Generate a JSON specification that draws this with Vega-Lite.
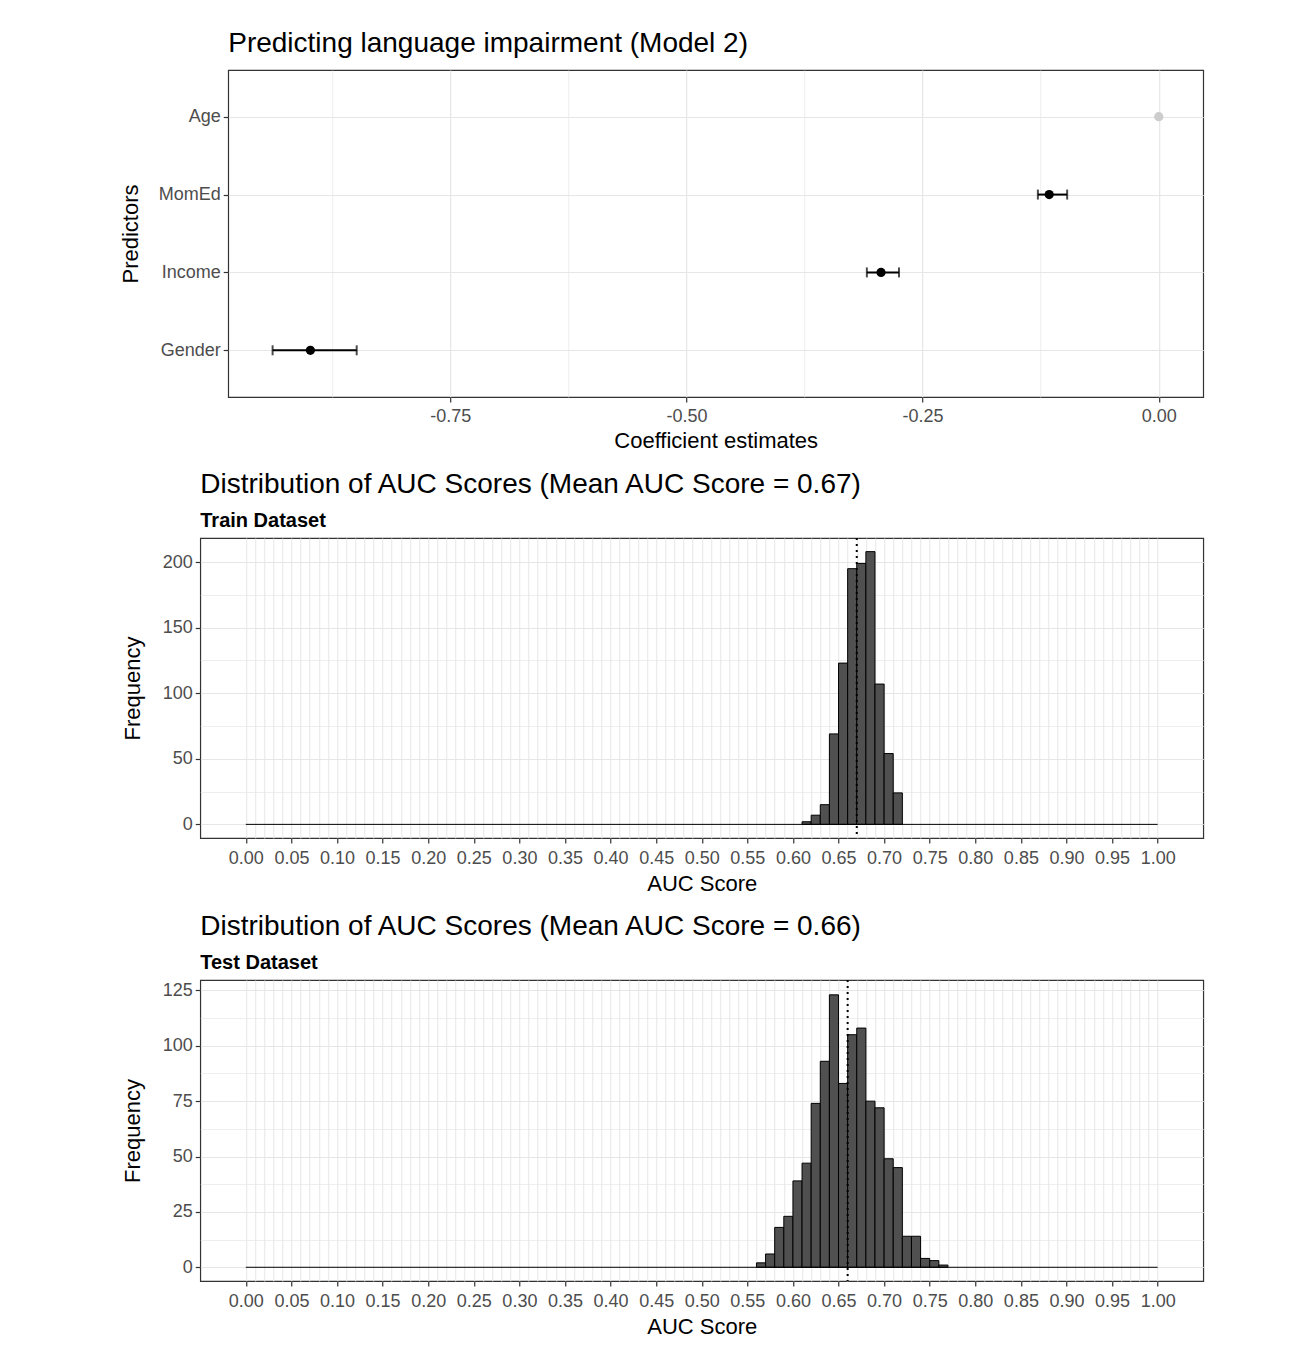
{
  "$schema": "https://vega.github.io/schema/vega-lite/v6.json",
  "background": "white",
  "padding": {"left": 118, "top": 29, "right": 5, "bottom": 5},
  "center": true,
  "spacing": 18,
  "config": {
    "font": "Liberation Sans",
    "view": {"stroke": "#333333", "strokeWidth": 1.2},
    "axis": {
      "domain": false,
      "tickColor": "#333333",
      "tickSize": 5,
      "tickWidth": 1.2,
      "labelColor": "#4d4d4d",
      "labelFontSize": 18,
      "labelPadding": 3,
      "labelOverlap": false,
      "titleFontSize": 22,
      "titleFontWeight": "normal",
      "titleColor": "black",
      "gridColor": "#e6e6e6",
      "gridWidth": 1
    },
    "title": {
      "fontSize": 28,
      "fontWeight": "normal",
      "color": "black",
      "anchor": "start",
      "frame": "group",
      "subtitleFontSize": 20,
      "subtitleFontWeight": "bold",
      "subtitleColor": "black",
      "subtitlePadding": 12
    }
  },
  "datasets": {
    "coef": [
      {"predictor": "Age", "estimate": 0.0, "low": 0.0, "high": 0.0, "nonzero": "no"},
      {"predictor": "MomEd", "estimate": -0.116, "low": -0.128, "high": -0.097, "nonzero": "yes"},
      {"predictor": "Income", "estimate": -0.294, "low": -0.309, "high": -0.275, "nonzero": "yes"},
      {"predictor": "Gender", "estimate": -0.898, "low": -0.938, "high": -0.849, "nonzero": "yes"}
    ],
    "train": [
      {"lo": 0.61, "hi": 0.62, "count": 2},
      {"lo": 0.62, "hi": 0.63, "count": 7},
      {"lo": 0.63, "hi": 0.64, "count": 15},
      {"lo": 0.64, "hi": 0.65, "count": 69},
      {"lo": 0.65, "hi": 0.66, "count": 123},
      {"lo": 0.66, "hi": 0.67, "count": 195},
      {"lo": 0.67, "hi": 0.68, "count": 199},
      {"lo": 0.68, "hi": 0.69, "count": 208},
      {"lo": 0.69, "hi": 0.70, "count": 107},
      {"lo": 0.70, "hi": 0.71, "count": 54},
      {"lo": 0.71, "hi": 0.72, "count": 24}
    ],
    "test": [
      {"lo": 0.56, "hi": 0.57, "count": 2},
      {"lo": 0.57, "hi": 0.58, "count": 6},
      {"lo": 0.58, "hi": 0.59, "count": 18},
      {"lo": 0.59, "hi": 0.60, "count": 23},
      {"lo": 0.60, "hi": 0.61, "count": 39},
      {"lo": 0.61, "hi": 0.62, "count": 47},
      {"lo": 0.62, "hi": 0.63, "count": 74},
      {"lo": 0.63, "hi": 0.64, "count": 93},
      {"lo": 0.64, "hi": 0.65, "count": 123},
      {"lo": 0.65, "hi": 0.66, "count": 83},
      {"lo": 0.66, "hi": 0.67, "count": 105},
      {"lo": 0.67, "hi": 0.68, "count": 108},
      {"lo": 0.68, "hi": 0.69, "count": 75},
      {"lo": 0.69, "hi": 0.70, "count": 72},
      {"lo": 0.70, "hi": 0.71, "count": 49},
      {"lo": 0.71, "hi": 0.72, "count": 45},
      {"lo": 0.72, "hi": 0.73, "count": 14},
      {"lo": 0.73, "hi": 0.74, "count": 14},
      {"lo": 0.74, "hi": 0.75, "count": 4},
      {"lo": 0.75, "hi": 0.76, "count": 3},
      {"lo": 0.76, "hi": 0.77, "count": 1}
    ],
    "means": [
      {"set": "Train", "mean": 0.67, "from": 0, "to": 1},
      {"set": "Test", "mean": 0.66, "from": 0, "to": 1}
    ]
  },
  "vconcat": [
    {
      "width": 975,
      "height": 327,
      "title": {"text": "Predicting language impairment (Model 2)", "offset": 12},
      "data": {"name": "coef"},
      "encoding": {
        "y": {
          "field": "predictor",
          "type": "nominal",
          "sort": ["Age", "MomEd", "Income", "Gender"],
          "scale": {"type": "point", "padding": 0.6},
          "title": "Predictors",
          "axis": {"titlePadding": 16, "grid": true, "gridWidth": 1.2}
        }
      },
      "layer": [
        {
          "transform": [{"filter": "datum.high > datum.low"}],
          "mark": {"type": "errorbar", "color": "black", "thickness": 2, "ticks": {"size": 10, "thickness": 2}},
          "encoding": {
            "x": {
              "field": "low",
              "type": "quantitative",
              "title": "Coefficient estimates",
              "scale": {"domain": [-0.985, 0.047], "nice": false, "zero": false},
              "axis": {
                "values": [-0.875, -0.75, -0.625, -0.5, -0.375, -0.25, -0.125, 0],
                "tickCount": 100,
                "labelExpr": "abs(round(datum.value*8)) % 2 == 0 ? (datum.value < 0 ? '-' : '') + format(abs(datum.value), '.2f') : ''",
                "labelOverlap": false,
                "tickOpacity": {"condition": {"test": "abs(round(datum.value*8)) % 2 == 1", "value": 0}, "value": 1},
                "gridWidth": {"condition": {"test": "abs(round(datum.value*8)) % 2 == 1", "value": 0.7}, "value": 1.2},
                "labelPadding": 5,
                "titlePadding": 5
              }
            },
            "x2": {"field": "high"}
          }
        },
        {
          "mark": {"type": "point", "filled": true, "size": 85, "opacity": 1},
          "encoding": {
            "x": {"field": "estimate", "type": "quantitative", "title": "Coefficient estimates"},
            "color": {
              "field": "nonzero",
              "type": "nominal",
              "scale": {"domain": ["yes", "no"], "range": ["#000000", "#cccccc"]},
              "legend": null
            }
          }
        }
      ]
    },
    {
      "spacing": 0,
      "hconcat": [
        {
          "spacing": 17,
          "vconcat": [
            {
              "width": 1003,
              "height": 300,
              "title": {"text": "Distribution of AUC Scores (Mean AUC Score = 0.67)", "subtitle": "Train Dataset", "offset": 6},
              "layer": [
                {
                  "data": {"name": "train"},
                  "mark": {"type": "bar", "fill": "#505050", "stroke": "#000000", "strokeWidth": 1},
                  "encoding": {
                    "x": {
                      "field": "lo",
                      "type": "quantitative",
                      "title": "AUC Score",
                      "scale": {"domain": [-0.05, 1.05], "nice": false, "zero": false},
                      "axis": {
                        "values": [0,0.01,0.02,0.03,0.04,0.05,0.06,0.07,0.08,0.09,0.1,0.11,0.12,0.13,0.14,0.15,0.16,0.17,0.18,0.19,0.2,0.21,0.22,0.23,0.24,0.25,0.26,0.27,0.28,0.29,0.3,0.31,0.32,0.33,0.34,0.35,0.36,0.37,0.38,0.39,0.4,0.41,0.42,0.43,0.44,0.45,0.46,0.47,0.48,0.49,0.5,0.51,0.52,0.53,0.54,0.55,0.56,0.57,0.58,0.59,0.6,0.61,0.62,0.63,0.64,0.65,0.66,0.67,0.68,0.69,0.7,0.71,0.72,0.73,0.74,0.75,0.76,0.77,0.78,0.79,0.8,0.81,0.82,0.83,0.84,0.85,0.86,0.87,0.88,0.89,0.9,0.91,0.92,0.93,0.94,0.95,0.96,0.97,0.98,0.99,1],
                        "tickCount": 500,
                        "labelExpr": "round(datum.value*100) % 5 == 0 ? format(datum.value, '.2f') : ''",
                        "labelOverlap": false,
                        "tickOpacity": {"condition": {"test": "round(datum.value*100) % 5 != 0", "value": 0}, "value": 1},
                        "labelPadding": 6,
                        "titlePadding": 6
                      }
                    },
                    "x2": {"field": "hi"},
                    "y": {
                      "field": "count",
                      "type": "quantitative",
                      "title": "Frequency",
                      "scale": {"domain": [-10.4, 218.4], "nice": false, "zero": false},
                      "axis": {
                        "values": [0, 25, 50, 75, 100, 125, 150, 175, 200],
                        "tickCount": 100,
                        "labelExpr": "datum.value % 50 == 0 ? datum.label : ''",
                        "labelOverlap": false,
                        "tickOpacity": {"condition": {"test": "datum.value % 50 != 0", "value": 0}, "value": 1},
                        "gridWidth": {"condition": {"test": "datum.value % 50 != 0", "value": 0.7}, "value": 1.2},
                        "titlePadding": 18
                      }
                    },
                    "y2": {"datum": 0}
                  }
                },
                {
                  "data": {"name": "means"},
                  "transform": [{"filter": "datum.set == 'Train'"}],
                  "mark": {"type": "rule", "color": "#000000", "strokeWidth": 1},
                  "encoding": {
                    "x": {"field": "from", "type": "quantitative"},
                    "x2": {"field": "to"},
                    "y": {"datum": 0}
                  }
                },
                {
                  "data": {"name": "means"},
                  "transform": [{"filter": "datum.set == 'Train'"}],
                  "mark": {"type": "rule", "color": "#000000", "strokeWidth": 2, "strokeDash": [2, 4]},
                  "encoding": {
                    "x": {"field": "mean", "type": "quantitative"}
                  }
                }
              ]
            },
            {
              "width": 1003,
              "height": 301,
              "title": {"text": "Distribution of AUC Scores (Mean AUC Score = 0.66)", "subtitle": "Test Dataset", "offset": 6},
              "layer": [
                {
                  "data": {"name": "test"},
                  "mark": {"type": "bar", "fill": "#505050", "stroke": "#000000", "strokeWidth": 1},
                  "encoding": {
                    "x": {
                      "field": "lo",
                      "type": "quantitative",
                      "title": "AUC Score",
                      "scale": {"domain": [-0.05, 1.05], "nice": false, "zero": false},
                      "axis": {
                        "values": [0,0.01,0.02,0.03,0.04,0.05,0.06,0.07,0.08,0.09,0.1,0.11,0.12,0.13,0.14,0.15,0.16,0.17,0.18,0.19,0.2,0.21,0.22,0.23,0.24,0.25,0.26,0.27,0.28,0.29,0.3,0.31,0.32,0.33,0.34,0.35,0.36,0.37,0.38,0.39,0.4,0.41,0.42,0.43,0.44,0.45,0.46,0.47,0.48,0.49,0.5,0.51,0.52,0.53,0.54,0.55,0.56,0.57,0.58,0.59,0.6,0.61,0.62,0.63,0.64,0.65,0.66,0.67,0.68,0.69,0.7,0.71,0.72,0.73,0.74,0.75,0.76,0.77,0.78,0.79,0.8,0.81,0.82,0.83,0.84,0.85,0.86,0.87,0.88,0.89,0.9,0.91,0.92,0.93,0.94,0.95,0.96,0.97,0.98,0.99,1],
                        "tickCount": 500,
                        "labelExpr": "round(datum.value*100) % 5 == 0 ? format(datum.value, '.2f') : ''",
                        "labelOverlap": false,
                        "tickOpacity": {"condition": {"test": "round(datum.value*100) % 5 != 0", "value": 0}, "value": 1},
                        "labelPadding": 6,
                        "titlePadding": 6
                      }
                    },
                    "x2": {"field": "hi"},
                    "y": {
                      "field": "count",
                      "type": "quantitative",
                      "title": "Frequency",
                      "scale": {"domain": [-6.2, 129.7], "nice": false, "zero": false},
                      "axis": {
                        "values": [0, 12.5, 25, 37.5, 50, 62.5, 75, 87.5, 100, 112.5, 125],
                        "tickCount": 100,
                        "labelExpr": "datum.value % 25 == 0 ? datum.label : ''",
                        "labelOverlap": false,
                        "tickOpacity": {"condition": {"test": "datum.value % 25 != 0", "value": 0}, "value": 1},
                        "gridWidth": {"condition": {"test": "datum.value % 25 != 0", "value": 0.7}, "value": 1.2},
                        "titlePadding": 18
                      }
                    },
                    "y2": {"datum": 0}
                  }
                },
                {
                  "data": {"name": "means"},
                  "transform": [{"filter": "datum.set == 'Test'"}],
                  "mark": {"type": "rule", "color": "#000000", "strokeWidth": 1},
                  "encoding": {
                    "x": {"field": "from", "type": "quantitative"},
                    "x2": {"field": "to"},
                    "y": {"datum": 0}
                  }
                },
                {
                  "data": {"name": "means"},
                  "transform": [{"filter": "datum.set == 'Test'"}],
                  "mark": {"type": "rule", "color": "#000000", "strokeWidth": 2, "strokeDash": [2, 4]},
                  "encoding": {
                    "x": {"field": "mean", "type": "quantitative"}
                  }
                }
              ]
            }
          ]
        },
        {
          "width": 26,
          "height": 20,
          "view": {"stroke": "transparent"},
          "data": {"values": []},
          "mark": "point"
        }
      ]
    }
  ]
}
